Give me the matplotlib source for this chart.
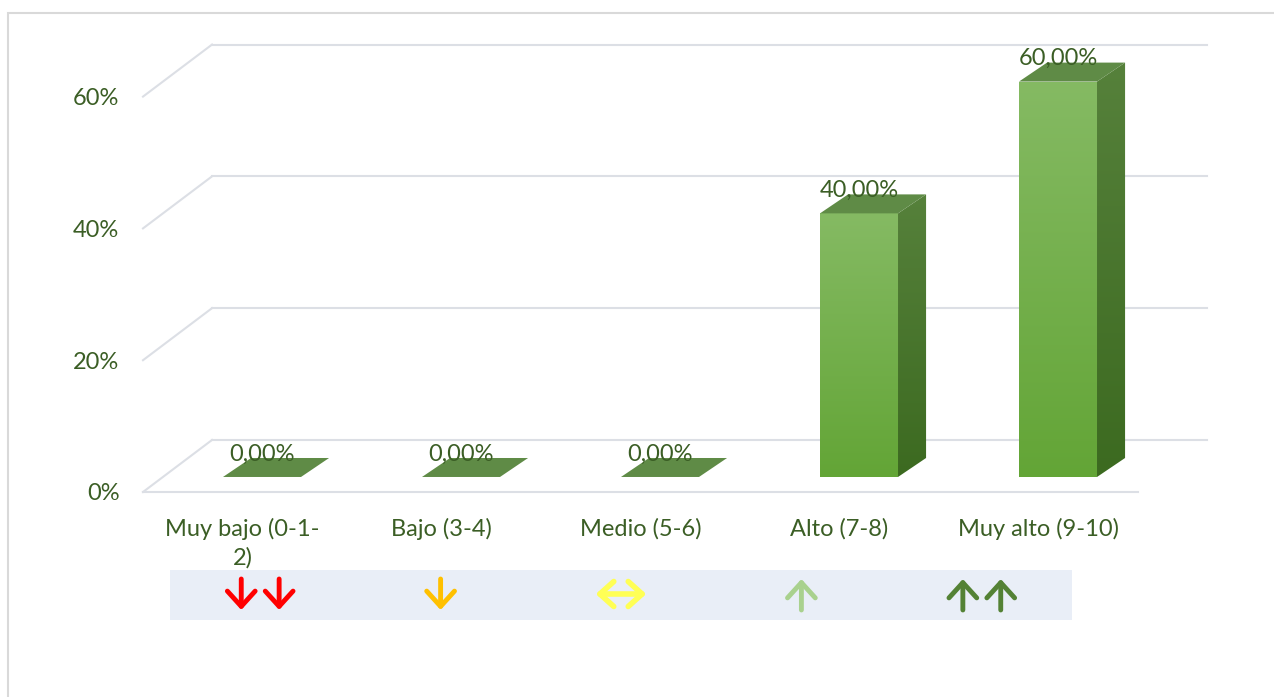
## 3D-look bar chart with arrow strip

import numpy as np
import matplotlib.pyplot as plt
from matplotlib.patches import Polygon, Rectangle
from matplotlib.colors import LinearSegmentedColormap

## Data

categories = ['Muy bajo (0-1-\n2)', 'Bajo (3-4)', 'Medio (5-6)', 'Alto (7-8)', 'Muy alto (9-10)']
values = [0.0, 0.0, 0.0, 0.40, 0.60]
value_labels = ['0,00%', '0,00%', '0,00%', '40,00%', '60,00%']
y_ticks = [0.0, 0.2, 0.4, 0.6]
y_tick_labels = ['0%', '20%', '40%', '60%']
# arrow icons per cell: direction and how many
arrow_dirs = ['down', 'down', 'both', 'up', 'up']
arrow_counts = [2, 1, 1, 1, 2]
arrow_colors = ['#ff0000', '#ffc000', '#ffff55', '#a9d18e', '#548235']

## Style

plt.rcParams['font.family'] = ['Lato', 'DejaVu Sans']
text_col = '#3b5e25'
grid_col = '#dcdfe5'
W, H = 1274, 697
ppy = 659.0   # pixels per 1.0 on the y scale
ymax = 0.75

fig = plt.figure(figsize=(W / 100, H / 100), dpi=100)

# outer frame
fig.patches.append(Rectangle((8 / W, -0.05), 1.1, (697 - 13) / H + 0.05,
                             transform=fig.transFigure, fill=False,
                             edgecolor='#d9d9d9', lw=1.5))

## Main axes = front plane of the 3D box

ax = fig.add_axes([143 / W, 205 / H, 995 / W, ymax * ppy / H])
for s in ax.spines.values():
    s.set_visible(False)
ax.patch.set_alpha(0)

# depth offsets (data units)
wall_dx, wall_dy = 0.347, 0.079
bar_fx, bar_fy = 0.098, 0.0228   # bar front face offset from front plane
bar_dx, bar_dy = 0.141, 0.0288   # bar depth
bar_w = 0.392

# gridlines: left wall diagonals + back wall lines
for v in y_ticks:
    ax.plot([-0.5, -0.5 + wall_dx], [v, v + wall_dy], color=grid_col, lw=1.5,
            clip_on=False, zorder=1)
    ax.plot([-0.5 + wall_dx, 4.5 + wall_dx], [v + wall_dy, v + wall_dy],
            color=grid_col, lw=1.5, clip_on=False, zorder=1)
ax.plot([-0.5, 4.5], [0, 0], color=grid_col, lw=1.5, clip_on=False, zorder=1)

front_cmap = LinearSegmentedColormap.from_list('front', ['#63a536', '#85ba63'])
side_cmap = LinearSegmentedColormap.from_list('side', ['#3c6a20', '#56813b'])
grad = np.linspace(0, 1, 256).reshape(-1, 1)

for i, v in enumerate(values):
    x0 = i + bar_fx - bar_w / 2
    x1 = i + bar_fx + bar_w / 2
    y0 = bar_fy
    y1 = bar_fy + v
    if v > 0:
        # front face
        fr = Polygon([[x0, y0], [x1, y0], [x1, y1], [x0, y1]], closed=True,
                     facecolor='none', edgecolor='none')
        ax.add_patch(fr)
        im = ax.imshow(grad, extent=[x0, x1, y0, y1], origin='lower',
                       cmap=front_cmap, aspect='auto', zorder=3)
        im.set_clip_path(fr)
        # side face
        side_pts = [[x1, y0], [x1 + bar_dx, y0 + bar_dy],
                    [x1 + bar_dx, y1 + bar_dy], [x1, y1]]
        sd = Polygon(side_pts, closed=True, facecolor='none', edgecolor='none')
        ax.add_patch(sd)
        im2 = ax.imshow(grad, extent=[x1, x1 + bar_dx, y0, y1 + bar_dy],
                        origin='lower', cmap=side_cmap, aspect='auto', zorder=3)
        im2.set_clip_path(sd)
    # top face
    top_pts = [[x0, y1], [x1, y1], [x1 + bar_dx, y1 + bar_dy], [x0 + bar_dx, y1 + bar_dy]]
    ax.add_patch(Polygon(top_pts, closed=True, facecolor='#5f8b46',
                         edgecolor='none', zorder=4, clip_on=False))
    ax.text(i + bar_fx, y1 + bar_dy - 0.004, value_labels[i], ha='center',
            va='baseline', fontsize=17, color=text_col, zorder=6, clip_on=False)

ax.set_xlim(-0.5, 4.5)
ax.set_ylim(0, ymax)
ax.set_xticks(range(len(categories)), categories)
ax.set_yticks(y_ticks, y_tick_labels)
ax.tick_params(axis='both', length=0, labelsize=17, labelcolor=text_col)
ax.tick_params(axis='x', pad=19)
ax.tick_params(axis='y', pad=17)
for lab in ax.get_xticklabels():
    lab.set_multialignment('center')
    lab.set_linespacing(1.4)

## Arrow strip

sx = fig.add_axes([170 / W, 77 / H, 902 / W, 50 / H])
sx.set_facecolor('#e9eef7')
for s in sx.spines.values():
    s.set_visible(False)
sx.set_xticks([])
sx.set_yticks([])
sx.set_xlim(0, 5)
sx.set_ylim(0, 1)
for i, (d, n, col) in enumerate(zip(arrow_dirs, arrow_counts, arrow_colors)):
    for k in range(n):
        cx = i + 0.5 + (k - (n - 1) / 2) * 0.21
        if d == 'both':
            sx.annotate('', xy=(cx - 0.14, 0.52), xytext=(cx + 0.14, 0.52),
                        arrowprops=dict(arrowstyle='<->, head_length=0.5, head_width=0.45',
                                        color=col, lw=4, mutation_scale=20,
                                        shrinkA=0, shrinkB=0))
        else:
            ya, yb = (0.2, 0.82) if d == 'down' else (0.82, 0.2)
            sx.annotate('', xy=(cx, ya), xytext=(cx, yb),
                        arrowprops=dict(arrowstyle='->, head_length=0.55, head_width=0.5',
                                        color=col, lw=3.5, mutation_scale=20,
                                        shrinkA=0, shrinkB=0))

fig.savefig('out.png', dpi=100)
